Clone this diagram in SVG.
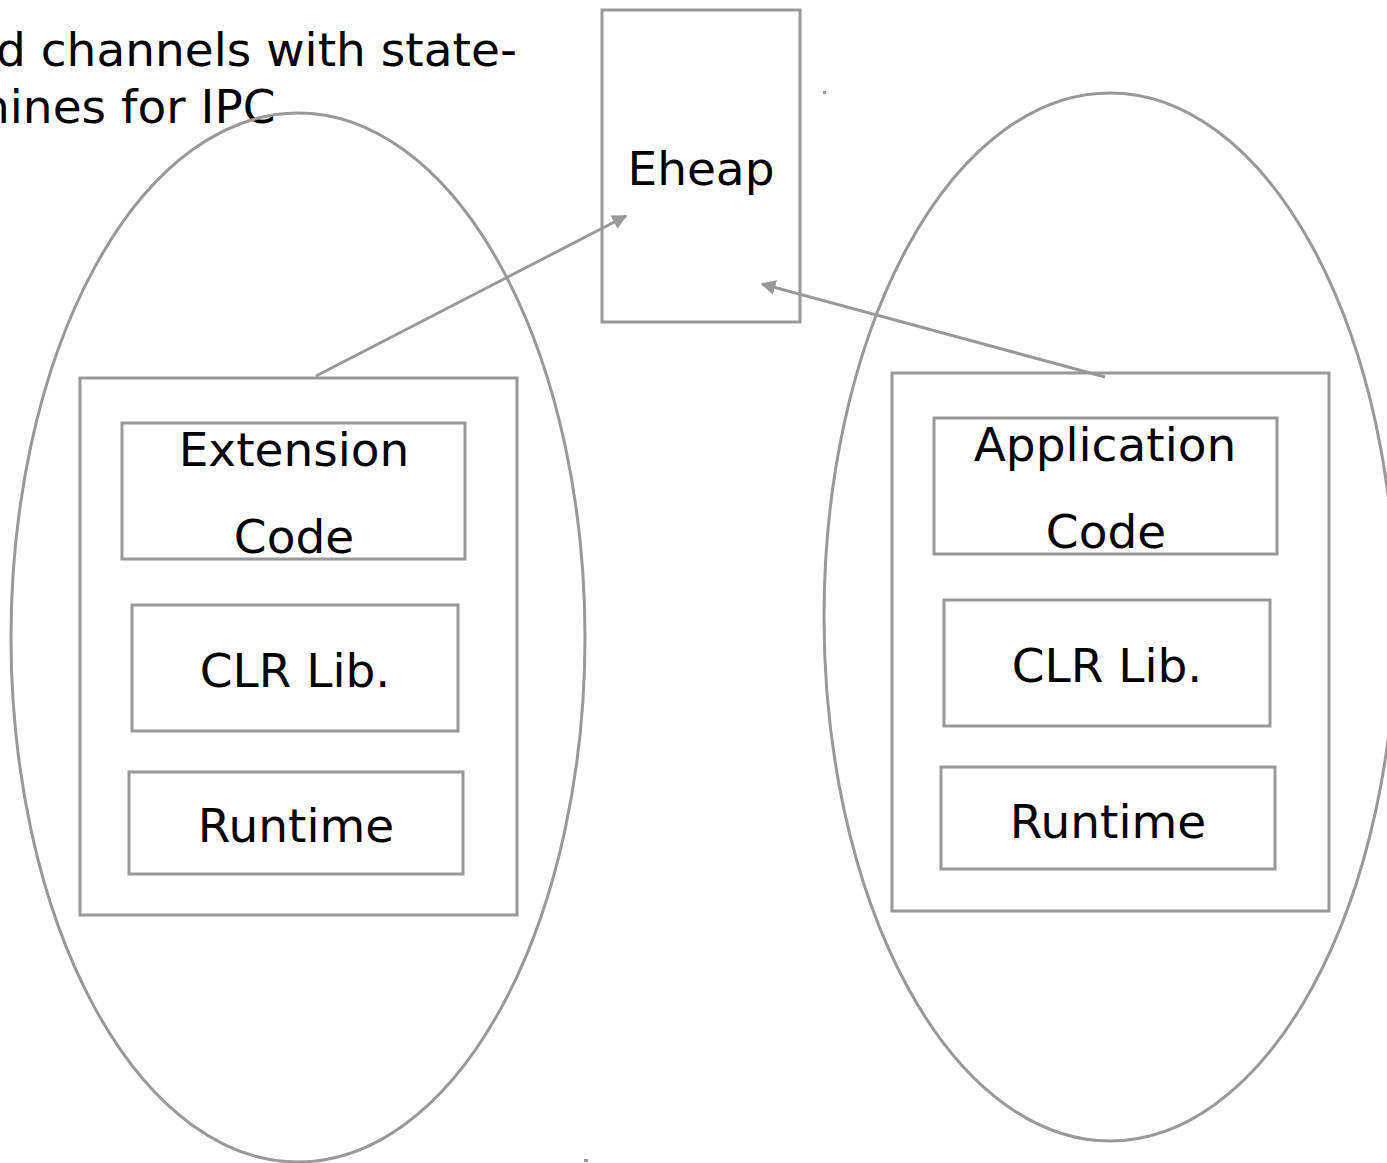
<svg xmlns="http://www.w3.org/2000/svg" width="1387" height="1163" viewBox="0 0 1387 1163">
<defs>
<style>
.s{fill:none;stroke:#999999;stroke-width:3}
.t{font-family:"DejaVu Sans","Liberation Sans",sans-serif;font-size:47px;fill:#000000}
.c{text-anchor:middle}
.l{stroke:#999999;stroke-width:3;fill:none}
</style>
<marker id="ah" viewBox="0 0 10 10" refX="9" refY="5" markerWidth="5" markerHeight="5" markerUnits="strokeWidth" orient="auto">
<path d="M0,0 L10,5 L0,10 z" fill="#999999"/>
</marker>
</defs>
<rect width="1387" height="1163" fill="#ffffff"/>
<g id="caption">
<text class="t" x="-4" y="66">d channels with state-</text>
<text class="t" x="-20" y="123">hines for IPC</text>
</g>
<g id="extension-process">
<ellipse class="s" cx="298" cy="637.5" rx="287" ry="524.5"/>
</g>
<g id="application-process">
<ellipse class="s" cx="1110" cy="617" rx="286" ry="524"/>
</g>
<g id="eheap">
<rect class="s" x="602" y="10" width="198" height="312"/>
<text class="t c" x="701" y="185">Eheap</text>
</g>
<g id="extension-stack">
<rect class="s" x="80" y="378" width="437" height="537"/>
</g>
<g id="extension-code">
<rect class="s" x="122" y="423" width="343" height="136"/>
<text class="t c" x="294" y="466">Extension</text>
<text class="t c" x="294" y="553">Code</text>
</g>
<g id="extension-clr">
<rect class="s" x="132" y="605" width="326" height="126"/>
<text class="t c" x="295" y="687">CLR Lib.</text>
</g>
<g id="extension-runtime">
<rect class="s" x="129" y="772" width="334" height="102"/>
<text class="t c" x="296" y="842">Runtime</text>
</g>
<g id="application-stack">
<rect class="s" x="892" y="373" width="437" height="538"/>
</g>
<g id="application-code">
<rect class="s" x="934" y="418" width="343" height="136"/>
<text class="t c" x="1105" y="461">Application</text>
<text class="t c" x="1106" y="548">Code</text>
</g>
<g id="application-clr">
<rect class="s" x="944" y="600" width="326" height="126"/>
<text class="t c" x="1107" y="682">CLR Lib.</text>
</g>
<g id="application-runtime">
<rect class="s" x="941" y="767" width="334" height="102"/>
<text class="t c" x="1108" y="838">Runtime</text>
</g>
<g id="connectors">
<line class="l" x1="316" y1="376" x2="626" y2="216" marker-end="url(#ah)"/>
<line class="l" x1="1105" y1="377" x2="762" y2="284" marker-end="url(#ah)"/>
</g>
<g id="dots" fill="#999999">
<rect x="823" y="91" width="3" height="3"/>
<rect x="584" y="1159" width="4" height="3"/>
</g>
</svg>
